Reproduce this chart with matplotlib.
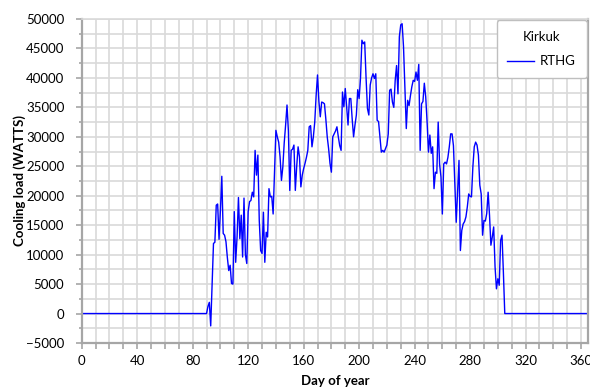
import numpy as np
import matplotlib
matplotlib.use("Agg")
import matplotlib.pyplot as plt
from matplotlib.ticker import MultipleLocator

plt.rcParams['font.family'] = ['Lato', 'DejaVu Sans']

# Daily cooling load (W) for days 91..304; zero elsewhere
active_start = 91
active_load = [
    1200, 1900, -2100, 5000, 11900, 12100, 18400, 18600, 12600, 17500,   # 91-100
    23300, 13600, 13300, 12200, 9500, 7300, 8200, 5100, 5000, 17300,     # 101-110
    8700, 13000, 19700, 12700, 16700, 9600, 19600, 10000, 8500, 17300,   # 111-120
    19000, 19200, 20600, 19800, 27700, 23500, 26900, 15800, 10700, 10200,  # 121-130
    17200, 8700, 13800, 13000, 21200, 19800, 19900, 16900, 24000, 31100,   # 131-140
    30000, 29100, 26600, 22600, 24900, 29000, 32000, 35400, 31000, 20900,  # 141-150
    27700, 27900, 28600, 20900, 25000, 28300, 26600, 21500, 23500, 24600,  # 151-160
    25500, 26500, 27700, 31700, 31900, 28300, 30000, 32500, 37000, 40500,  # 161-170
    36000, 33400, 35900, 35800, 35600, 33000, 30000, 28000, 25500, 24000,  # 171-180
    30000, 30500, 31000, 31700, 30000, 28500, 27700, 37600, 35100, 38200,  # 181-190
    35000, 32000, 36500, 36500, 33000, 30000, 32000, 33700, 38000, 36500,  # 191-200
    40000, 46400, 45800, 46100, 40000, 34800, 33700, 38800, 40000, 40700,  # 201-210
    39900, 40700, 32800, 32600, 30000, 27400, 27700, 27400, 28000, 28600,  # 211-220
    30500, 37900, 38100, 35900, 35000, 39600, 42100, 37300, 47000, 49000,  # 221-230
    49200, 45300, 38500, 31400, 36200, 35300, 37000, 38500, 39600, 39400,  # 231-240
    41000, 39600, 42300, 27700, 35600, 36000, 39100, 36800, 32500, 27400,  # 241-250
    30300, 27200, 28300, 21200, 24000, 23800, 32500, 25400, 23200, 16900,  # 251-260
    25400, 25700, 25400, 26500, 28300, 30500, 30500, 28500, 22000, 15500,  # 261-270
    20900, 26000, 10700, 14100, 15200, 15600, 16400, 18100, 20300, 19900,  # 271-280
    19800, 24900, 28300, 29100, 28600, 26900, 21800, 20300, 13300, 15800,  # 281-290
    15700, 17000, 20600, 16700, 11600, 13000, 14700, 7900, 4200, 5900,     # 291-300
    4800, 12400, 13300, 7000,                                              # 301-304
]

days = np.arange(1, 366)
load = np.zeros(365)
load[active_start - 1: active_start - 1 + len(active_load)] = active_load

x_ticks = [0, 40, 80, 120, 160, 200, 240, 280, 320, 360]
y_ticks = list(range(-5000, 50001, 5000))

fig = plt.figure(figsize=(5.90, 3.87), dpi=100)
ax = fig.add_axes([0.1385, 0.1137, 0.8581, 0.8372])

grid_c = '#d9d9d9'
spine_c = '#a6a6a6'

ax.set_xlim(0, 365)
ax.set_ylim(-5000, 50000)
ax.xaxis.set_minor_locator(MultipleLocator(10))
ax.yaxis.set_minor_locator(MultipleLocator(2500))
ax.set_xticks(x_ticks)
ax.set_yticks(y_ticks)
ax.grid(True, which='both', color=grid_c, linewidth=1.2)
ax.set_axisbelow(True)

ax.plot(days, load, color='#0000ff', linewidth=1.0, label='RTHG')

for s in ['left', 'bottom', 'right']:
    ax.spines[s].set_color(spine_c)
    ax.spines[s].set_linewidth(1.6)
ax.spines['top'].set_color(grid_c)
ax.spines['top'].set_linewidth(1.2)

ax.tick_params(axis='both', which='both', direction='out', color=spine_c, width=1.2)
ax.tick_params(axis='x', which='both', length=4.5, labelsize=9.5, pad=4)
ax.tick_params(axis='y', which='major', length=4.5, labelsize=9.5, pad=8)
ax.tick_params(axis='y', which='minor', length=2.5)
ax.tick_params(axis='x', which='both', top=False)
ax.tick_params(axis='y', which='both', right=False)

ax.set_xlabel('Day of year', fontsize=9.5, fontweight='bold')
ax.set_ylabel('Cooling load (WATTS)', fontsize=9.5, fontweight='bold')
ax.xaxis.set_label_coords(0.5, -0.116)
ax.yaxis.set_label_coords(-0.122, 0.5)
ax.xaxis.label.set_va('center')
ax.yaxis.label.set_va('center')

leg = ax.legend(title='Kirkuk', loc='upper right', fontsize=9.5, title_fontsize=9.5,
                frameon=True, fancybox=True, borderaxespad=0.1,
                handlelength=2.0, handletextpad=0.5, borderpad=0.8, labelspacing=0.9)
leg._legend_box.sep = 9
leg.get_frame().set_edgecolor('#bfbfbf')
leg.get_frame().set_linewidth(1.0)
leg.get_frame().set_alpha(1.0)

fig.savefig('out.png', dpi=100)
